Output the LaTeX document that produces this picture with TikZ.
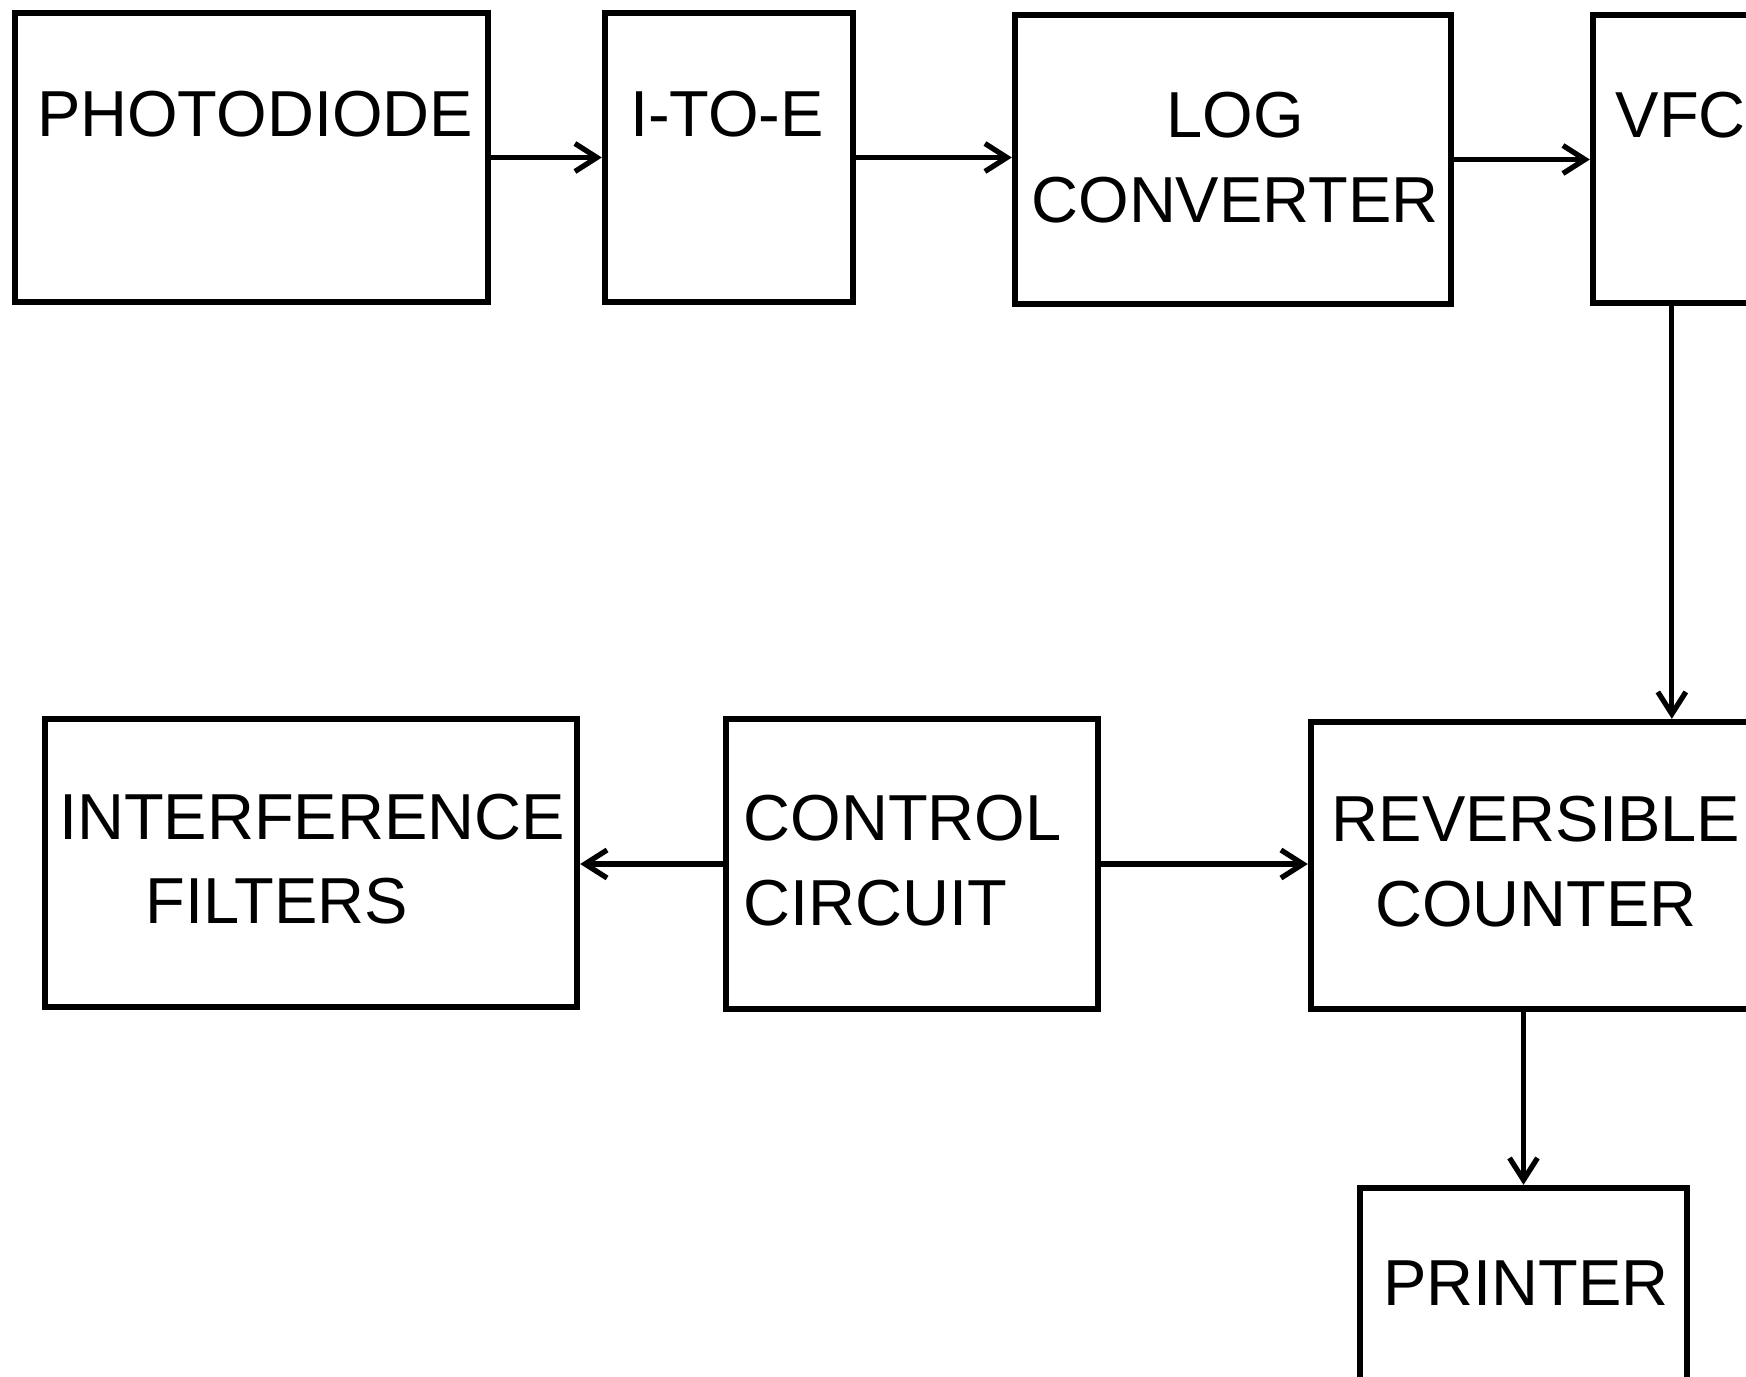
\documentclass[tikz,border=0pt]{standalone}
\usepackage{fontspec}
\setmainfont{Liberation Sans}
\usepackage{tikz}
\usetikzlibrary{arrows.meta, positioning, calc}

\begin{document}
\begin{tikzpicture}[
  box/.style={draw, line width=1.8pt, inner sep=0pt},
  lbl/.style={font=\fontsize{18.5}{24}\selectfont, inner sep=0pt},
  arr/.style={-{Straight Barb[length=2.2mm, width=2.8mm, line width=1.5pt]}, line width=1.5pt},
]
\useasboundingbox (0,0) rectangle (17.46,-13.77);
\clip (0,0) rectangle (17.46,-13.77);

% ===== top row =====
\node[box, minimum width=4.73cm, minimum height=2.89cm] (pd) at (2.515,-1.575) {};
\node[lbl] at (2.55,-1.145) {PHOTODIODE};

\node[box, minimum width=2.48cm, minimum height=2.89cm] (ite) at (7.29,-1.575) {};
\node[lbl] at (7.27,-1.145) {I-TO-E};

\node[box, minimum width=4.36cm, minimum height=2.89cm] (log) at (12.33,-1.595) {};
\node[lbl, align=center] at (12.35,-1.575) {LOG\\CONVERTER};

\node[box, minimum width=3.0cm, minimum height=2.88cm] (vfc) at (17.43,-1.59) {};
\node[lbl, anchor=west] at (16.15,-1.155) {VFC};

\draw[arr] (pd) -- (ite);
\draw[arr] (ite.east) -- (ite.east -| log.west);
\draw[arr] (log.east) -- (log.east -| vfc.west);

% ===== middle row =====
\node[box, minimum width=5.32cm, minimum height=2.88cm] (filt) at (3.11,-8.63) {};
\node[lbl, align=center] at (3.12,-8.59) {INTERFERENCE\\FILTERS\hspace*{0.7cm}};

\node[box, minimum width=3.72cm, minimum height=2.90cm] (ctrl) at (9.12,-8.64) {};
\node[lbl, align=left, anchor=west] at (7.43,-8.605) {CONTROL\\CIRCUIT};

\node[box, minimum width=4.8cm, minimum height=2.87cm] (rev) at (15.51,-8.655) {};
\node[lbl, align=center] at (15.36,-8.615) {REVERSIBLE\\COUNTER};

\draw[arr] ([xshift=8.2mm]vfc.south west) -- ([xshift=8.2mm]vfc.south west |- rev.north);
\draw[arr] (ctrl.west) -- (ctrl.west -| filt.east);
\draw[arr] (ctrl.east) -- (ctrl.east -| rev.west);

% ===== printer =====
\node[box, minimum width=3.27cm, minimum height=2.62cm] (prn) at (15.235,-13.19) {};
\node[lbl] at (15.26,-12.83) {PRINTER};

\draw[arr] (rev.south -| prn.north) -- (prn.north);

\end{tikzpicture}
\end{document}
